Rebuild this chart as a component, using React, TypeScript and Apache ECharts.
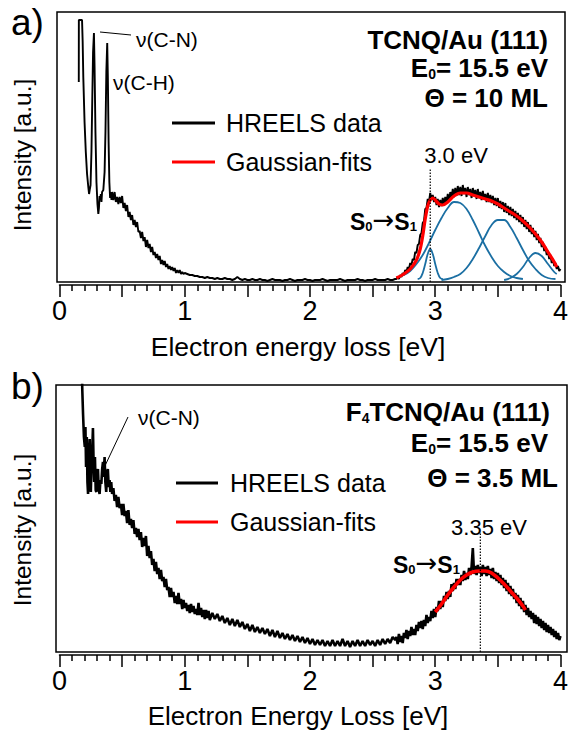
import React, { useEffect, useRef } from 'react';
import * as echarts from 'echarts';

const FONT = '"Liberation Sans", Arial, Helvetica, sans-serif';

// ---------- Panel a: TCNQ/Au(111) ----------
// [energy eV, intensity] around the elastic peak and vibrational losses
const aPeaks: [number, number][] = [
  [0.154, 200], [0.1545, 262], [0.18, 262], [0.185, 240], [0.19, 205], [0.2, 160], [0.21, 130],
  [0.22, 108], [0.23, 95], [0.236, 88], [0.241, 92], [0.248, 97], [0.255, 130], [0.262, 185],
  [0.268, 230], [0.275, 249], [0.28, 215], [0.287, 150], [0.295, 100], [0.303, 78], [0.31, 68],
  [0.315, 74], [0.32, 86], [0.325, 82], [0.33, 88], [0.335, 80], [0.34, 90], [0.35, 92],
  [0.36, 110], [0.367, 150], [0.374, 210], [0.381, 239], [0.386, 205], [0.392, 140],
  [0.398, 100], [0.404, 84], [0.41, 90], [0.415, 82],
];
// 0.42 .. 1.00 eV, step 0.01
const aTail = [90, 82, 90, 80, 85, 78, 85, 79, 86, 74, 79, 71, 77, 65, 70, 62, 67, 57, 62, 55, 60, 50, 51,
  44, 50, 41, 45, 35, 42, 34, 38, 30, 35, 27, 30, 24, 28, 22, 26, 18, 22, 17, 21, 15, 18, 13, 16, 12, 15,
  11, 14, 9, 12, 9, 12, 8, 10, 8, 9];
// 1.02 .. 2.68 eV, step 0.02
const aFlat = [8, 7, 7, 6, 6, 5, 5, 4, 5, 4, 4, 3, 4, 3, 3, 4, 3, 3, 2, 3, 5, 3, 2, 3, 2, 2, 3, 2, 2, 3, 2,
  2, 1, 2, 3, 2, 2, 2, 1, 2, 2, 3, 2, 1, 2, 2, 2, 3, 2, 2, 1, 2, 2, 2, 3, 2, 1, 2, 2, 2, 2, 3, 2, 1, 2, 2,
  2, 2, 3, 2, 2, 1, 2, 2, 2, 3, 2, 2, 2, 2, 3, 2, 2, 3];
// 2.69 .. 4.00 eV, step 0.01
const aBand = [3, 5, 3, 7, 5, 9, 7, 12, 10, 15, 13, 19, 17, 23, 22, 30, 29, 37, 38, 47, 49, 59, 61, 73, 74,
  83, 80, 89, 82, 87, 80, 85, 77, 83, 75, 82, 76, 84, 77, 85, 79, 88, 80, 90, 84, 93, 85, 94, 86, 96, 87,
  95, 86, 97, 88, 94, 85, 95, 87, 93, 84, 94, 86, 92, 83, 93, 84, 90, 82, 91, 83, 88, 80, 89, 80, 87, 79,
  86, 77, 84, 76, 84, 74, 81, 73, 80, 70, 79, 69, 76, 67, 75, 66, 73, 64, 71, 62, 69, 60, 67, 58, 65, 55,
  62, 53, 60, 50, 57, 48, 54, 45, 51, 42, 48, 39, 44, 35, 40, 31, 35, 27, 31, 23, 27, 19, 23, 16, 19, 13,
  16, 11, 13];
// Gaussian components (blue) and their sum (red)
const aGauss1: [number, number][] = [[2.86, 3], [2.88, 4], [2.9, 9], [2.92, 18], [2.94, 28], [2.96, 33],
  [2.98, 28], [3.0, 18], [3.02, 9], [3.04, 4], [3.06, 3]];
const aGauss2: [number, number][] = [[2.7, 5], [2.75, 7], [2.8, 11], [2.85, 18], [2.9, 27], [2.95, 39],
  [3.0, 52], [3.05, 64], [3.1, 74], [3.15, 80], [3.2, 79], [3.25, 73], [3.3, 62], [3.35, 49], [3.4, 36],
  [3.45, 25], [3.5, 16], [3.55, 10], [3.6, 6], [3.65, 4], [3.7, 3]];
const aGauss3: [number, number][] = [[3.05, 2], [3.1, 3], [3.15, 5], [3.2, 8], [3.25, 14], [3.3, 23],
  [3.35, 34], [3.4, 46], [3.45, 57], [3.5, 62], [3.55, 62], [3.6, 55], [3.65, 44], [3.7, 32], [3.75, 21],
  [3.8, 13], [3.85, 7], [3.9, 4], [3.96, 3]];
const aGauss4: [number, number][] = [[3.55, 2], [3.6, 4], [3.65, 8], [3.7, 15], [3.75, 24], [3.8, 29],
  [3.85, 26], [3.9, 18], [3.95, 10], [3.97, 8]];
const aFit: [number, number][] = [[2.69, 4], [2.75, 8], [2.8, 13], [2.85, 22], [2.88, 33], [2.9, 46],
  [2.92, 63], [2.94, 76], [2.96, 82], [2.98, 84], [3.0, 82], [3.03, 78], [3.06, 77], [3.1, 80], [3.15, 86],
  [3.2, 89], [3.25, 89], [3.3, 87], [3.35, 85], [3.4, 83], [3.45, 81], [3.5, 78], [3.55, 74], [3.6, 70],
  [3.65, 66], [3.7, 61], [3.75, 55], [3.8, 48], [3.85, 40], [3.9, 30], [3.95, 20], [3.97, 15]];
const aMarkerEnergy = 2.96;

// ---------- Panel b: F4TCNQ/Au(111) ----------
const bPeaks: [number, number][] = [
  [0.176, 300], [0.182, 262], [0.188, 238], [0.195, 215], [0.202, 205], [0.207, 225], [0.212, 185],
  [0.218, 215], [0.223, 170], [0.228, 158], [0.234, 190], [0.241, 213], [0.246, 175], [0.25, 160],
  [0.255, 185], [0.261, 200], [0.267, 224], [0.272, 190], [0.277, 170], [0.283, 195], [0.289, 162],
  [0.294, 160], [0.3, 178], [0.307, 183], [0.313, 163], [0.32, 158], [0.327, 172], [0.334, 168],
  [0.34, 182], [0.347, 190], [0.353, 175], [0.36, 195], [0.366, 170], [0.373, 160], [0.379, 178],
  [0.386, 183], [0.393, 165], [0.4, 172], [0.406, 160], [0.413, 170], [0.42, 158],
];
// 0.43 .. 1.20 eV, step 0.01
const bTail = [164, 151, 157, 145, 155, 144, 148, 137, 148, 136, 141, 129, 142, 127, 133, 124, 132, 118,
  124, 115, 123, 112, 120, 105, 114, 106, 116, 96, 106, 94, 101, 87, 93, 81, 90, 78, 84, 73, 82, 71, 75,
  65, 73, 62, 65, 55, 64, 55, 60, 49, 56, 48, 59, 48, 53, 43, 52, 44, 49, 41, 47, 39, 48, 40, 46, 38, 43,
  37, 49, 37, 44, 35, 42, 33, 42, 34, 41, 32];
// 1.22 .. 2.68 eV, step 0.02
const bMid = [39, 33, 38, 31, 36, 29, 34, 27, 33, 26, 32, 25, 30, 23, 28, 21, 27, 20, 25, 19, 24, 18, 23,
  16, 22, 15, 21, 14, 19, 13, 18, 12, 17, 11, 16, 10, 15, 9, 14, 8, 13, 7, 12, 7, 12, 6, 11, 6, 12, 6,
  11, 6, 13, 6, 11, 5, 11, 6, 12, 6, 11, 6, 12, 7, 11, 6, 12, 7, 13, 8, 13, 9, 15, 12];
// 2.69 .. 4.00 eV, step 0.01
const bBand = [15, 8, 18, 10, 16, 9, 19, 14, 22, 13, 21, 16, 25, 17, 23, 17, 27, 21, 30, 24, 31, 23, 32,
  26, 37, 29, 35, 31, 41, 34, 43, 35, 45, 41, 51, 43, 51, 45, 56, 51, 60, 53, 61, 55, 68, 61, 69, 63, 73,
  67, 73, 67, 77, 71, 81, 72, 79, 73, 84, 77, 85, 104, 78, 86, 77, 87, 79, 85, 76, 87, 78, 85, 76, 86, 77,
  83, 74, 84, 73, 80, 71, 79, 69, 77, 67, 74, 64, 72, 61, 69, 58, 66, 56, 63, 53, 59, 49, 57, 46, 54, 43,
  51, 40, 47, 37, 44, 35, 41, 33, 39, 29, 37, 28, 35, 26, 33, 24, 31, 22, 29, 20, 27, 19, 25, 17, 23, 15,
  21, 13, 19, 12, 16];
const bFit: [number, number][] = [[3.0, 40], [3.05, 48], [3.1, 57], [3.15, 65], [3.2, 72], [3.25, 77],
  [3.3, 80], [3.35, 81], [3.4, 81], [3.45, 79], [3.5, 74], [3.55, 68], [3.6, 61], [3.65, 54], [3.7, 46],
  [3.72, 42]];
const bMarkerEnergy = 3.36;

const xTicks = [0, 1, 2, 3, 4];

function sampled(x0: number, step: number, ys: number[]): [number, number][] {
  return ys.map((y, i) => [Number((x0 + i * step).toFixed(3)), y]);
}

const aBlack = [...aPeaks, ...sampled(0.42, 0.01, aTail), ...sampled(1.02, 0.02, aFlat), ...sampled(2.69, 0.01, aBand)];
const bBlack = [...bPeaks, ...sampled(0.43, 0.01, bTail), ...sampled(1.22, 0.02, bMid), ...sampled(2.69, 0.01, bBand)];

const BLUE = '#1b6fa3';

function mkX(gridIndex: number) {
  return {
    type: 'value', gridIndex, min: xTicks[0], max: xTicks[xTicks.length - 1], interval: 0.5,
    position: 'bottom', offset: 3,
    axisLine: { show: true, onZero: false, lineStyle: { color: '#000', width: 1.5 } },
    axisTick: { show: true, length: 12, lineStyle: { color: '#000', width: 1.5 } },
    minorTick: { show: true, splitNumber: 5, length: 6, lineStyle: { color: '#000', width: 1.5 } },
    axisLabel: {
      show: true, fontSize: 27, color: '#000', fontFamily: FONT, margin: 12,
      showMinLabel: true, showMaxLabel: true,
      formatter: (v: number) => (xTicks.includes(v) ? String(v) : ''),
    },
    splitLine: { show: false }, minorSplitLine: { show: false },
  };
}

function txt(x: number, y: number, text: string, size: number, opts: any = {}) {
  return {
    type: 'text', x, y, silent: true, rotation: opts.rotation || 0,
    style: {
      text, fontSize: size, fontFamily: FONT, fontWeight: opts.bold ? 'bold' : 'normal', fill: '#000',
      align: opts.align || 'left', verticalAlign: 'middle', rich: opts.rich,
    },
  };
}

const richBold = (size: number, sub: number) => ({
  b: { fontSize: size, fontWeight: 'bold', fontFamily: FONT, fill: '#000', verticalAlign: 'bottom' },
  s: { fontSize: sub, fontWeight: 'bold', fontFamily: FONT, fill: '#000', verticalAlign: 'bottom' },
  a: { fontSize: size + 3, fontWeight: 'normal', fontFamily: '"DejaVu Sans", sans-serif', fill: '#000', verticalAlign: 'bottom' },
});

function line(x1: number, y1: number, x2: number, y2: number, color: string, w: number) {
  return { type: 'line', silent: true, shape: { x1, y1, x2, y2 }, style: { stroke: color, lineWidth: w } };
}

const option: any = {
  animation: false,
  backgroundColor: '#fff',
  textStyle: { fontFamily: FONT },
  grid: [
    { left: 59.5, width: 505.5, top: 12, height: 270 },
    { left: 59.5, width: 505.5, top: 385, height: 267 },
  ],
  xAxis: [mkX(0), mkX(1)],
  yAxis: [
    { type: 'value', gridIndex: 0, min: 0, max: 270, show: false },
    { type: 'value', gridIndex: 1, min: 0, max: 267, show: false },
  ],
  series: [
    { type: 'line', xAxisIndex: 0, yAxisIndex: 0, data: aBlack, symbol: 'none', silent: true, z: 2,
      lineStyle: { color: '#000', width: 1.9 } },
    ...[aGauss1, aGauss2, aGauss3, aGauss4].map((d) => ({
      type: 'line', xAxisIndex: 0, yAxisIndex: 0, data: d, symbol: 'none', smooth: 0.4, silent: true, z: 3,
      lineStyle: { color: BLUE, width: 1.8 },
    })),
    { type: 'line', xAxisIndex: 0, yAxisIndex: 0, data: aFit, symbol: 'none', smooth: 0.3, silent: true, z: 4,
      lineStyle: { color: '#ff0000', width: 3.2 } },
    { type: 'line', xAxisIndex: 0, yAxisIndex: 0, data: [[aMarkerEnergy, 0], [aMarkerEnergy, 114]], symbol: 'none',
      silent: true, z: 5, lineStyle: { color: '#000', width: 1.2, type: [1.5, 1.5] } },
    { type: 'line', xAxisIndex: 1, yAxisIndex: 1, data: bBlack, symbol: 'none', silent: true, z: 2,
      lineStyle: { color: '#000', width: 2.6 } },
    { type: 'line', xAxisIndex: 1, yAxisIndex: 1, data: bFit, symbol: 'none', smooth: 0.3, silent: true, z: 4,
      lineStyle: { color: '#ff0000', width: 3.6 } },
    { type: 'line', xAxisIndex: 1, yAxisIndex: 1, data: [[bMarkerEnergy, 0], [bMarkerEnergy, 119]], symbol: 'none',
      silent: true, z: 5, lineStyle: { color: '#000', width: 1.2, type: [1.5, 1.5] } },
  ],
  graphic: {
    elements: [
      { type: 'rect', silent: true, z: 10, shape: { x: 57, y: 12, width: 508, height: 270 },
        style: { fill: 'none', stroke: '#000', lineWidth: 1.5 } },
      { type: 'rect', silent: true, z: 10, shape: { x: 56, y: 385, width: 511, height: 267 },
        style: { fill: 'none', stroke: '#000', lineWidth: 1.5 } },
      // panel a texts
      txt(11, 22, 'a)', 37),
      txt(22, 155, 'Intensity [a.u.]', 24.5, { align: 'center', rotation: Math.PI / 2 }),
      txt(298, 347, 'Electron energy loss [eV]', 26.5, { align: 'center' }),
      txt(548, 40, 'TCNQ/Au (111)', 26, { bold: true, align: 'right' }),
      txt(548, 68, '{b|E}{s|0}{b|= 15.5 eV}', 26, { align: 'right', rich: richBold(26, 14) }),
      txt(548, 98, 'Θ = 10 ML', 26, { bold: true, align: 'right' }),
      txt(456, 155, '3.0 eV', 22, { align: 'center' }),
      txt(350, 220, '{b|S}{s|0}{a|→}{b|S}{s|1}', 23, { rich: richBold(23, 13) }),
      txt(136, 39, 'ν(C-N)', 21),
      txt(113, 82, 'ν(C-H)', 21),
      line(100, 32, 131, 35, '#000', 1),
      line(172, 123, 215, 123, '#000', 3),
      line(172, 162, 215, 162, '#ff0000', 3),
      txt(226, 123, 'HREELS data', 25),
      txt(226, 162, 'Gaussian-fits', 25),
      // panel b texts
      txt(11, 386, 'b)', 37),
      txt(22, 530, 'Intensity [a.u.]', 24.5, { align: 'center', rotation: Math.PI / 2 }),
      txt(298, 716, 'Electron Energy Loss [eV]', 26, { align: 'center' }),
      txt(550, 412, '{b|F}{s|4}{b|TCNQ/Au (111)}', 26, { align: 'right', rich: richBold(26, 14) }),
      txt(548, 443, '{b|E}{s|0}{b|= 15.5 eV}', 26, { align: 'right', rich: richBold(26, 14) }),
      txt(558, 478, 'Θ = 3.5 ML', 26, { bold: true, align: 'right' }),
      txt(489, 527, '3.35 eV', 22, { align: 'center' }),
      txt(393, 563, '{b|S}{s|0}{a|→}{b|S}{s|1}', 23, { rich: richBold(23, 13) }),
      txt(138, 417, 'ν(C-N)', 21),
      line(128, 417, 103, 470, '#000', 1),
      line(176, 483, 218, 483, '#000', 3),
      line(176, 522, 218, 522, '#ff0000', 3),
      txt(230, 483, 'HREELS data', 25),
      txt(230, 522, 'Gaussian-fits', 25),
    ],
  },
};

export default function App() {
  const ref = useRef<HTMLDivElement>(null);
  useEffect(() => {
    const chart = echarts.init(ref.current!, null, { renderer: 'svg' });
    chart.setOption(option);
    return () => chart.dispose();
  }, []);
  return (
    <div
      ref={ref}
      style={{ position: 'fixed', left: 0, top: 0, width: 571, height: 733, background: '#fff' }}
    />
  );
}
